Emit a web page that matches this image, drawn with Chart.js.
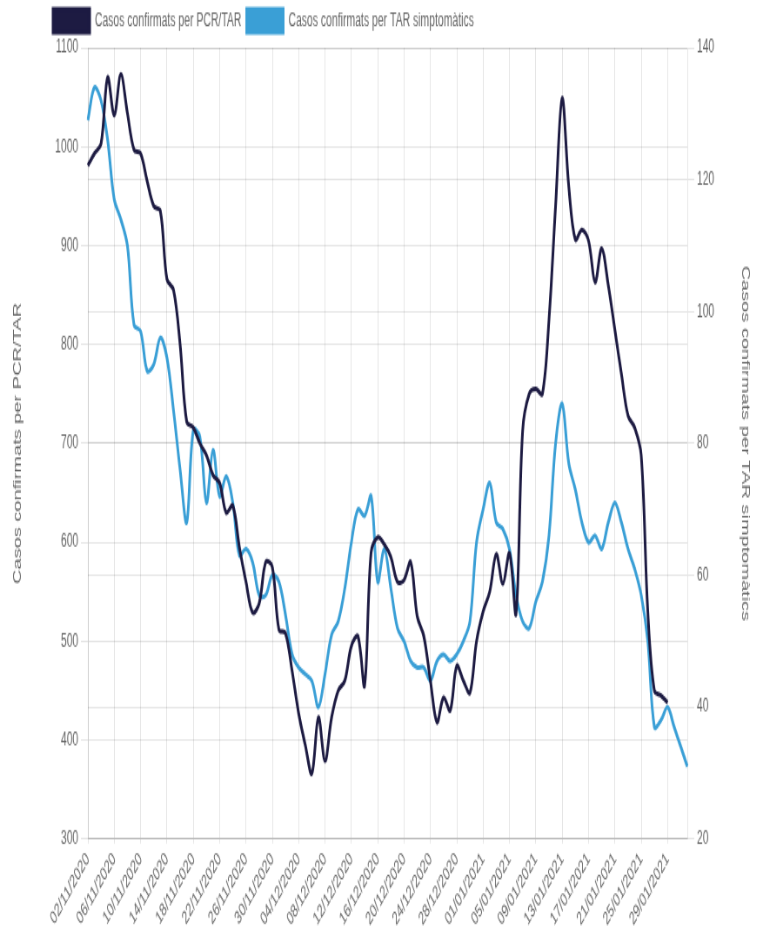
<!DOCTYPE html>
<html lang="ca">
<head>
    <meta charset="UTF-8">
    <script src="https://cdnjs.cloudflare.com/ajax/libs/Chart.js/4.4.1/chart.umd.min.js"></script>
    <title>Casos confirmats</title>
    <style>
        html, body {
            margin: 0;
            padding: 0;
            background: #ffffff;
        }

        .frame {
            width: 757px;
            height: 935px;
            overflow: hidden;
        }

        /* the reference is a stretched render: draw at 870x607 then scale to 757x935 */
        .stretch {
            position: relative;
            width: 870px;
            height: 607px;
            transform: scale(0.87, 1.54);
            transform-origin: 0 0;
        }
    </style>
</head>
<body>
    <div class="frame">
        <div class="stretch">
            <canvas id="casosChart"></canvas>
        </div>
    </div>

    <script>
        const dates = [
            '02/11/2020','03/11/2020','04/11/2020','05/11/2020','06/11/2020','07/11/2020','08/11/2020','09/11/2020',
            '10/11/2020','11/11/2020','12/11/2020','13/11/2020','14/11/2020','15/11/2020','16/11/2020','17/11/2020',
            '18/11/2020','19/11/2020','20/11/2020','21/11/2020','22/11/2020','23/11/2020','24/11/2020','25/11/2020',
            '26/11/2020','27/11/2020','28/11/2020','29/11/2020','30/11/2020',
            '01/12/2020','02/12/2020','03/12/2020','04/12/2020','05/12/2020','06/12/2020','07/12/2020','08/12/2020',
            '09/12/2020','10/12/2020','11/12/2020','12/12/2020','13/12/2020','14/12/2020','15/12/2020','16/12/2020',
            '17/12/2020','18/12/2020','19/12/2020','20/12/2020','21/12/2020','22/12/2020','23/12/2020','24/12/2020',
            '25/12/2020','26/12/2020','27/12/2020','28/12/2020','29/12/2020','30/12/2020','31/12/2020',
            '01/01/2021','02/01/2021','03/01/2021','04/01/2021','05/01/2021','06/01/2021','07/01/2021','08/01/2021',
            '09/01/2021','10/01/2021','11/01/2021','12/01/2021','13/01/2021','14/01/2021','15/01/2021','16/01/2021',
            '17/01/2021','18/01/2021','19/01/2021','20/01/2021','21/01/2021','22/01/2021','23/01/2021','24/01/2021',
            '25/01/2021','26/01/2021','27/01/2021','28/01/2021','29/01/2021','30/01/2021','31/01/2021',
            '01/02/2021'
        ];

        // left axis
        const casosPcrTar = [
            981, 993, 1003, 1070, 1032, 1073, 1034, 997, 993, 965,
            940, 935, 866, 855, 800, 722, 716, 700, 688, 668,
            660, 630, 637, 595, 560, 529, 538, 580, 575, 512,
            508, 470, 427, 395, 366, 423, 379, 423, 450, 460,
            495, 505, 455, 590, 605, 598, 585, 560, 562, 580,
            525, 505, 460, 418, 443, 430, 475, 460, 448, 500,
            530, 550, 588, 558, 589, 528, 713, 750, 755, 750,
            825, 940, 1049, 960, 906, 916, 905, 863, 897, 860,
            815, 770, 728, 716, 688, 530, 450, 445, 438, null,
            null, null
        ];

        // right axis
        const casosTarSimpt = [
            129, 134, 132, 126, 117, 114, 110, 98, 97, 91,
            92, 96, 93, 85, 76, 68, 82, 81, 71, 79,
            72, 75, 71, 63, 64, 62, 57, 57, 60, 59,
            54, 48, 46, 45, 44, 40, 45, 51, 53, 58,
            65, 70, 69, 72, 59, 64, 58, 52, 50, 47,
            46, 46, 44, 47, 48, 47, 48, 50, 53, 65,
            70, 74, 68, 67, 64, 57, 53, 52, 56, 59,
            66, 80, 86, 77, 73, 68, 65, 66, 64, 68,
            71, 68, 64, 61, 57, 50, 37, 38, 40, 37,
            34, 31
        ];

        const leftTicks = [300, 400, 500, 600, 700, 800, 900, 1000, 1100];
        const rightTicks = [20, 40, 60, 80, 100, 120, 140];

        Chart.defaults.font.family = "'Liberation Sans', Arial, sans-serif";
        Chart.defaults.font.size = 12;
        Chart.defaults.color = '#666';

        // push the legend to the right a bit, like the original
        const legendOffset = {
            id: 'legendOffset',
            afterLayout(chart) {
                chart.legend.left += 46;
                chart.legend.right += 46;
            }
        };

        new Chart(document.getElementById('casosChart'), {
            type: 'line',
            data: {
                labels: dates,
                datasets: [
                    {
                        label: 'Casos confirmats per PCR/TAR',
                        data: casosPcrTar,
                        yAxisID: 'y',
                        borderColor: '#1d1b42',
                        backgroundColor: '#1d1b42',
                        borderWidth: 3,
                        pointRadius: 0,
                        tension: 0.35
                    },
                    {
                        label: 'Casos confirmats per TAR simptomàtics',
                        data: casosTarSimpt,
                        yAxisID: 'y1',
                        borderColor: '#3a9fd6',
                        backgroundColor: '#3a9fd6',
                        borderWidth: 3,
                        pointRadius: 0,
                        tension: 0.35
                    }
                ]
            },
            options: {
                responsive: true,
                maintainAspectRatio: false,
                animation: false,
                layout: {
                    padding: { left: 9, right: 2, top: 0, bottom: 0 }
                },
                plugins: {
                    legend: {
                        align: 'start',
                        labels: {
                            boxWidth: 42,
                            boxHeight: 15,
                            padding: 6
                        }
                    },
                    tooltip: { enabled: false }
                },
                scales: {
                    x: {
                        grid: { color: 'rgba(0,0,0,0.1)', tickLength: 3 },
                        ticks: {
                            autoSkip: false,
                            minRotation: 46,
                            maxRotation: 46,
                            callback: function (value, index) {
                                return index % 4 === 0 ? dates[index] : null;
                            }
                        }
                    },
                    y: {
                        position: 'left',
                        min: leftTicks[0],
                        max: leftTicks[leftTicks.length - 1],
                        ticks: {
                            stepSize: leftTicks[1] - leftTicks[0],
                            format: { useGrouping: false }
                        },
                        grid: { color: 'rgba(0,0,0,0.1)' },
                        title: {
                            display: true,
                            text: 'Casos confirmats per PCR/TAR',
                            font: { size: 13 }
                        },
                        afterFit: function (scale) { scale.width = 92; }
                    },
                    y1: {
                        position: 'right',
                        min: rightTicks[0],
                        max: rightTicks[rightTicks.length - 1],
                        ticks: { stepSize: rightTicks[1] - rightTicks[0] },
                        grid: { color: 'rgba(0,0,0,0.1)' },
                        title: {
                            display: true,
                            text: 'Casos confirmats per TAR simptomàtics',
                            font: { size: 13 }
                        },
                        afterFit: function (scale) { scale.width = 78; }
                    }
                }
            },
            plugins: [legendOffset]
        });
    </script>
</body>
</html>
